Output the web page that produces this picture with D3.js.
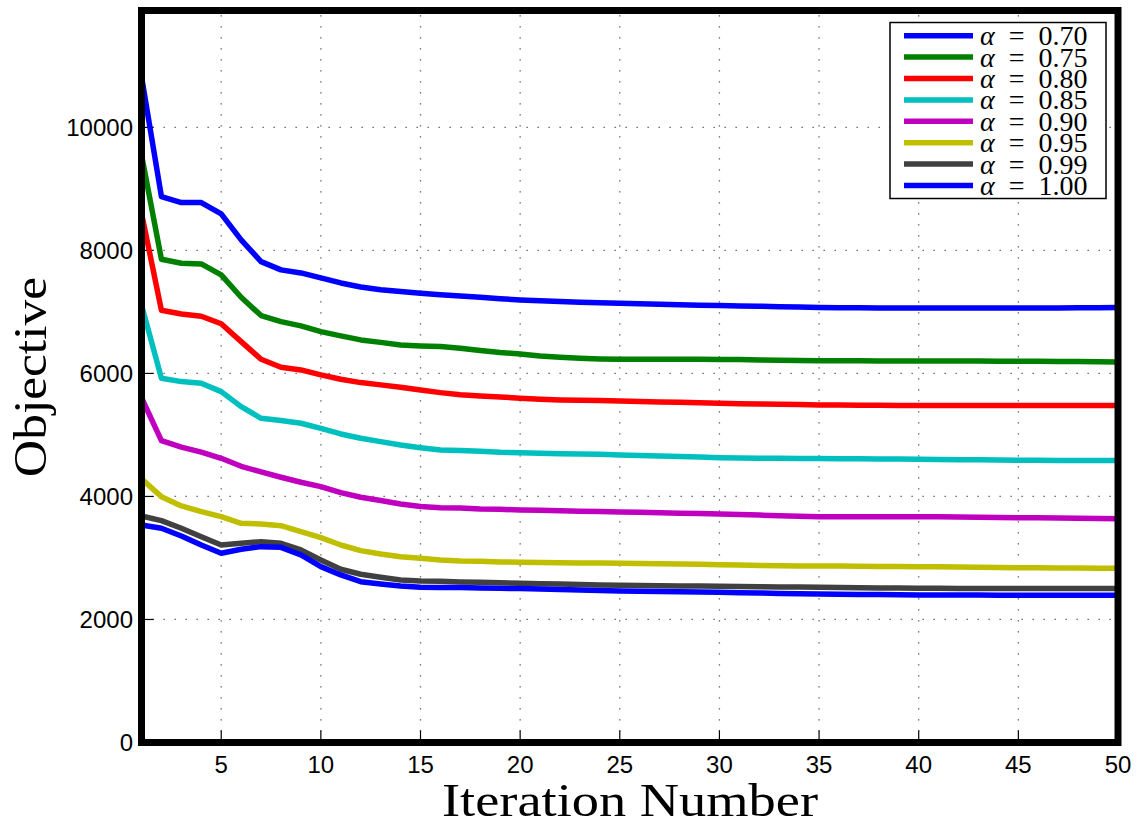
<!DOCTYPE html>
<html>
<head>
<meta charset="utf-8">
<script src="https://cdn.jsdelivr.net/npm/d3@7"></script>
<style>
  body { margin: 0; background: #fff; }
  .tick-label { font-family: "Liberation Sans", Arial, sans-serif; font-size: 24px; fill: #000; }
  .axis-title { font-family: "Liberation Serif", "DejaVu Serif", serif; fill: #000; }
  .legend-text { font-family: "Liberation Serif", "DejaVu Serif", serif; font-size: 28px; fill: #000; }
</style>
</head>
<body>
<script>
// iteration numbers 1..50
const iterations = d3.range(1, 51);

const alphaLabels = ["0.70", "0.75", "0.80", "0.85", "0.90", "0.95", "0.99", "1.00"];
const seriesColors = ["#0000ff", "#008000", "#ff0000", "#00bfbf", "#bf00bf", "#bfbf00", "#404040", "#0000ff"];

// objective values
const a70 = [10826, 8875, 8777, 8777, 8593, 8171, 7818, 7683, 7634, 7553, 7471, 7406, 7360, 7330, 7304, 7280, 7260, 7240, 7215, 7195, 7180, 7168, 7158, 7150, 7141, 7133, 7125, 7118, 7110, 7103, 7098, 7092, 7085, 7078, 7070, 7068, 7066, 7065, 7065, 7065, 7064, 7063, 7062, 7062, 7062, 7063, 7064, 7066, 7068, 7070];
const a75 = [9553, 7857, 7792, 7780, 7602, 7239, 6940, 6843, 6772, 6680, 6610, 6545, 6505, 6463, 6447, 6436, 6409, 6371, 6339, 6317, 6285, 6263, 6247, 6236, 6231, 6229, 6231, 6232, 6231, 6228, 6225, 6220, 6215, 6211, 6208, 6206, 6205, 6204, 6203, 6203, 6203, 6202, 6200, 6199, 6198, 6196, 6194, 6192, 6190, 6187];
const a80 = [8605, 7027, 6965, 6930, 6808, 6517, 6230, 6101, 6057, 5976, 5906, 5851, 5814, 5775, 5732, 5688, 5655, 5634, 5618, 5597, 5580, 5569, 5564, 5558, 5553, 5545, 5537, 5530, 5522, 5515, 5508, 5503, 5498, 5493, 5488, 5486, 5484, 5481, 5479, 5477, 5477, 5478, 5478, 5479, 5480, 5480, 5480, 5480, 5480, 5480];
const a85 = [7114, 5922, 5867, 5840, 5704, 5460, 5271, 5233, 5190, 5108, 5016, 4946, 4891, 4837, 4793, 4756, 4745, 4734, 4718, 4712, 4702, 4696, 4691, 4685, 4675, 4666, 4657, 4648, 4640, 4631, 4625, 4622, 4620, 4618, 4615, 4613, 4611, 4609, 4607, 4605, 4602, 4598, 4595, 4591, 4588, 4587, 4586, 4585, 4584, 4583];
const a90 = [5605, 4908, 4802, 4720, 4620, 4490, 4399, 4312, 4231, 4160, 4062, 3987, 3935, 3878, 3835, 3818, 3813, 3797, 3791, 3780, 3774, 3768, 3761, 3755, 3748, 3742, 3735, 3728, 3722, 3715, 3705, 3697, 3688, 3680, 3672, 3672, 3672, 3672, 3672, 3672, 3669, 3666, 3662, 3658, 3655, 3652, 3648, 3645, 3642, 3639];
const a95 = [4285, 3997, 3846, 3753, 3672, 3564, 3553, 3525, 3428, 3330, 3211, 3119, 3065, 3021, 2995, 2967, 2951, 2946, 2935, 2930, 2927, 2924, 2920, 2917, 2914, 2910, 2905, 2900, 2896, 2891, 2885, 2878, 2872, 2870, 2870, 2868, 2866, 2863, 2861, 2859, 2856, 2852, 2849, 2845, 2842, 2840, 2838, 2836, 2834, 2832];
const a99 = [3683, 3607, 3483, 3346, 3211, 3239, 3265, 3239, 3130, 2967, 2816, 2735, 2686, 2642, 2626, 2620, 2610, 2605, 2599, 2588, 2582, 2575, 2568, 2562, 2556, 2553, 2550, 2546, 2543, 2540, 2536, 2532, 2529, 2526, 2523, 2520, 2516, 2513, 2510, 2507, 2506, 2505, 2504, 2503, 2502, 2502, 2502, 2502, 2502, 2502];
const a100 = [3537, 3483, 3358, 3211, 3076, 3141, 3184, 3173, 3049, 2859, 2724, 2615, 2577, 2545, 2523, 2518, 2518, 2513, 2507, 2502, 2494, 2486, 2479, 2471, 2464, 2459, 2455, 2450, 2446, 2442, 2436, 2430, 2424, 2420, 2415, 2412, 2408, 2405, 2402, 2399, 2398, 2397, 2396, 2395, 2394, 2394, 2394, 2394, 2394, 2394];

const allSeries = [a70, a75, a80, a85, a90, a95, a99, a100];

const xTicks = [5, 10, 15, 20, 25, 30, 35, 40, 45, 50];
const yTicks = [0, 2000, 4000, 6000, 8000, 10000];

const width = 1143, height = 827;
const plot = { left: 141.5, right: 1118, top: 10.5, bottom: 742.5 };

const svg = d3.select("body").append("svg")
    .attr("width", width)
    .attr("height", height);

const x = d3.scaleLinear().domain([1, 50]).range([plot.left, plot.right]);
const y = d3.scaleLinear().domain([0, 11900]).range([plot.bottom, plot.top]);

// dotted grid
const grid = svg.append("g")
    .attr("stroke", "#555")
    .attr("stroke-width", 1.3)
    .attr("stroke-dasharray", "1.3,9.7");

grid.selectAll(".vgrid")
    .data(xTicks.filter(d => d < 50))
    .enter().append("line")
    .attr("x1", d => x(d)).attr("x2", d => x(d))
    .attr("y1", plot.bottom).attr("y2", plot.top);

grid.selectAll(".hgrid")
    .data(yTicks.filter(d => d > 0))
    .enter().append("line")
    .attr("x1", plot.left).attr("x2", plot.right)
    .attr("y1", d => y(d)).attr("y2", d => y(d));

// small inward ticks
const ticks = svg.append("g").attr("stroke", "#000").attr("stroke-width", 1.2);
ticks.selectAll(".xt")
    .data(xTicks)
    .enter().append("line")
    .attr("x1", d => x(d)).attr("x2", d => x(d))
    .attr("y1", plot.bottom).attr("y2", plot.bottom - 12);
ticks.selectAll(".yt")
    .data(yTicks)
    .enter().append("line")
    .attr("x1", plot.left).attr("x2", plot.left + 12)
    .attr("y1", d => y(d)).attr("y2", d => y(d));

// series lines
const line = d3.line()
    .x((d, i) => x(iterations[i]))
    .y(d => y(d));

svg.append("g")
    .selectAll(".series")
    .data(allSeries)
    .enter().append("path")
    .attr("class", "series")
    .attr("d", line)
    .attr("fill", "none")
    .attr("stroke", (d, i) => seriesColors[i])
    .attr("stroke-width", 5.5)
    .attr("stroke-linejoin", "round");

// thick axes box
svg.append("rect")
    .attr("x", plot.left).attr("y", plot.top)
    .attr("width", plot.right - plot.left)
    .attr("height", plot.bottom - plot.top)
    .attr("fill", "none")
    .attr("stroke", "#000")
    .attr("stroke-width", 7);

// tick labels
svg.append("g")
    .selectAll("text")
    .data(xTicks)
    .enter().append("text")
    .attr("class", "tick-label")
    .attr("x", d => x(d))
    .attr("y", 773)
    .attr("text-anchor", "middle")
    .text(d => d);

svg.append("g")
    .selectAll("text")
    .data(yTicks)
    .enter().append("text")
    .attr("class", "tick-label")
    .attr("x", 133)
    .attr("y", d => y(d) + 8.5)
    .attr("text-anchor", "end")
    .text(d => d);

// axis titles
svg.append("text")
    .attr("class", "axis-title")
    .attr("x", 630)
    .attr("y", 816)
    .attr("text-anchor", "middle")
    .attr("font-size", 46)
    .attr("textLength", 376)
    .attr("lengthAdjust", "spacingAndGlyphs")
    .text("Iteration Number");

svg.append("text")
    .attr("class", "axis-title")
    .attr("transform", "translate(46,377) rotate(-90)")
    .attr("text-anchor", "middle")
    .attr("font-size", 46)
    .attr("textLength", 200)
    .attr("lengthAdjust", "spacingAndGlyphs")
    .text("Objective");

// legend
const legend = svg.append("g");
legend.append("rect")
    .attr("x", 890).attr("y", 22.5)
    .attr("width", 216).attr("height", 176)
    .attr("fill", "#fff")
    .attr("stroke", "#000")
    .attr("stroke-width", 1.5);

const rowY = i => 35.7 + i * 21.4;

legend.selectAll(".lg-line")
    .data(alphaLabels)
    .enter().append("line")
    .attr("x1", 904).attr("x2", 973)
    .attr("y1", (d, i) => rowY(i)).attr("y2", (d, i) => rowY(i))
    .attr("stroke", (d, i) => seriesColors[i])
    .attr("stroke-width", 5.5);

const lgText = legend.selectAll(".lg-text")
    .data(alphaLabels)
    .enter().append("text")
    .attr("class", "legend-text")
    .attr("x", 980)
    .attr("y", (d, i) => rowY(i) + 9.5);

lgText.append("tspan").attr("font-style", "italic").text("α");
lgText.append("tspan").attr("dx", 14).text("=");
lgText.append("tspan").attr("dx", 14).text(d => d);
</script>
</body>
</html>
